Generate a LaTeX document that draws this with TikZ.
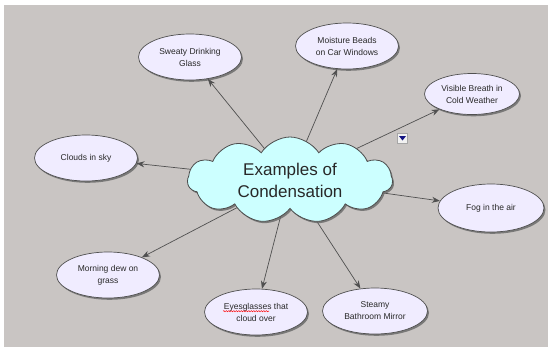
\documentclass[tikz,border=0pt]{standalone}
\usepackage{fontspec}
\setmainfont{Liberation Sans}
\usetikzlibrary{shapes.geometric,shapes.symbols,shadows,arrows.meta,calc,decorations.pathmorphing}
\definecolor{bggray}{RGB}{201,197,195}
\definecolor{lav}{RGB}{240,236,255}
\definecolor{cyanfill}{RGB}{204,255,255}
\definecolor{edgegray}{RGB}{80,80,80}
\definecolor{navyicon}{RGB}{20,20,130}
\definecolor{txt}{RGB}{40,40,40}
\tikzset{
  bubble/.style={ellipse, draw=edgegray, line width=0.7pt, fill=lav, text=txt,
    minimum width=103pt, minimum height=46pt, inner sep=0pt, align=center,
    font=\fontsize{8.5}{12}\selectfont,
    drop shadow={shadow xshift=1.5pt, shadow yshift=-1.8pt, fill=black!60, opacity=0.8}},
  centre/.style={cloud, cloud puffs=11, cloud puff arc=115, aspect=2.4, text=txt,
    draw=black!70, line width=0.8pt, fill=cyanfill, minimum width=205pt, minimum height=86pt,
    inner sep=0pt, align=center, font=\fontsize{17}{22}\selectfont,
    drop shadow={shadow xshift=1.5pt, shadow yshift=-1.8pt, fill=black!60, opacity=0.8}},
  link/.style={draw=edgegray, line width=0.7pt, -{Stealth[length=8pt,width=6pt]}},
}
\begin{document}
\begin{tikzpicture}[x=1pt,y=-1pt]
\useasboundingbox (0,0) rectangle (548,349);
\fill[bggray] (4,5) rectangle (548,347);
\coordinate (c) at (290,180);
\node[bubble] (sweaty) at (190,57) {Sweaty Drinking\\Glass};
\node[bubble] (moist) at (347,46) {Moisture Beads\\on Car Windows};
\node[bubble, minimum width=95pt, minimum height=41pt] (breath) at (472,94) {Visible Breath in\\Cold Weather};
\node[bubble] (sky) at (86,158) {Clouds in sky};
\node[bubble, minimum width=106pt, minimum height=48pt] (fog) at (491,208) {Fog in the air};
\node[bubble] (dew) at (108,275) {Morning dew on\\grass};
\node[bubble] (eye) at (256,312) {Eyesglasses that\\cloud over};
\node[bubble, minimum width=105pt] (mirror) at (375,311) {Steamy\\Bathroom Mirror};
\draw[red, line width=0.5pt, decorate, decoration={snake, amplitude=0.6pt, segment length=2.5pt}]
  ($(eye.center)+(-33,-0.8)$) -- ($(eye.center)+(13,-0.8)$);
\foreach \t in {sweaty,moist,breath,sky,fog,dew,eye,mirror}
  \draw[link] (c) -- (\t);
\node[centre] (cond) at (c) {Examples of\\Condensation};
\node[rectangle, draw=black!35, fill=black!5, minimum size=10pt, inner sep=0pt] (icon) at (402.5,138) {};
\fill[navyicon] ($(icon.center)+(-3.5,-2)$) -- ($(icon.center)+(3.5,-2)$) -- ($(icon.center)+(0,2.5)$) -- cycle;
\end{tikzpicture}
\end{document}
